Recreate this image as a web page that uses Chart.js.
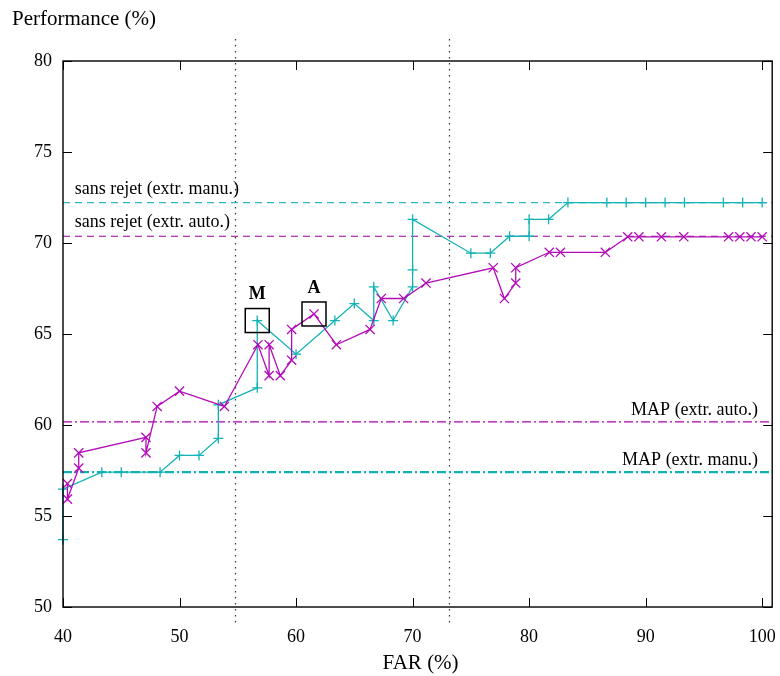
<!DOCTYPE html>
<html>
<head>
<meta charset="utf-8">
<script src="https://cdn.jsdelivr.net/npm/chart.js@4.4.0/dist/chart.umd.min.js"></script>
<style>
  html, body { margin: 0; padding: 0; background: #ffffff; }
  #wrap { width: 780px; height: 676px; position: relative; }
</style>
</head>
<body>
<div id="wrap"><canvas id="c" width="780" height="676"></canvas></div>
<script>
// ---- data ----
const xTickValues = [40, 50, 60, 70, 80, 90, 100];
const yTickValues = [50, 55, 60, 65, 70, 75, 80];

// manual extraction series (cyan, '+')
const manuFar  = [40, 40, 43.33, 45, 48.33, 50, 51.67, 53.33, 53.33, 56.67,
                  56.67, 60, 63.33, 65, 66.67, 66.67, 68.33, 70, 70, 70,
                  75, 76.67, 78.33, 80, 80, 81.67, 83.33, 86.67, 88.33, 90,
                  91.67, 93.33, 96.67, 98.33, 100];
const manuPerf = [53.70, 56.48, 57.41, 57.41, 57.41, 58.33, 58.33, 59.26, 61.11, 62.04,
                  65.74, 63.89, 65.74, 66.67, 65.74, 67.59, 65.74, 67.59, 68.52, 71.30,
                  69.44, 69.44, 70.37, 70.37, 71.30, 71.30, 72.22, 72.22, 72.22, 72.22,
                  72.22, 72.22, 72.22, 72.22, 72.22];

// automatic extraction series (magenta, 'x')
const autoFar  = [40.38, 40.38, 41.35, 41.35, 47.12, 47.12, 48.08, 50.00, 53.85,
                  56.73, 57.69, 57.69, 58.65, 59.62, 59.62, 61.54, 63.46, 66.35, 67.31,
                  69.23, 71.15, 76.92, 77.88, 78.85, 78.85, 81.73, 82.69, 86.54,
                  88.46, 89.42, 91.35, 93.27, 97.12, 98.08, 99.04, 100];
const autoPerf = [56.78, 55.93, 57.63, 58.47, 59.32, 58.47, 61.02, 61.86, 61.02,
                  64.41, 62.71, 64.41, 62.71, 63.56, 65.25, 66.10, 64.41, 65.25, 66.95,
                  66.95, 67.80, 68.64, 66.95, 67.80, 68.64, 69.49, 69.49, 69.49,
                  70.34, 70.34, 70.34, 70.34, 70.34, 70.34, 70.34, 70.34];

// reference (horizontal) levels
const refLabels = ['sans rejet (extr. manu.)', 'sans rejet (extr. auto.)', 'MAP (extr. auto.)', 'MAP (extr. manu.)'];
const refValues = [72.22, 70.37, 60.17, 57.41];

// vertical dotted markers (FAR %)
const vLines = [54.75, 73.1];

// boxed annotations
const boxLabels = ['M', 'A'];
const boxFar    = [56.67, 61.54];
const boxPerf   = [65.74, 66.10];

const X_MIN = 40, X_MAX = 100.86, Y_MIN = 50, Y_MAX = 80;

// ---- styles ----
const CYAN = '#12b2b6';
const MAG = '#b20cb8';
const FONT = 'Liberation Serif, Times New Roman, serif';

function pts(xs, ys) { return xs.map((x, i) => ({ x: x, y: ys[i] })); }
function hline(v) { return [{ x: X_MIN, y: v }, { x: X_MAX, y: v }]; }

const refStyles = [
  { color: '#2fb6c2', width: 1.2, dash: [7, 5] },
  { color: '#930093', width: 1.2, dash: [7, 5] },
  { color: '#b000b0', width: 1.2, dash: [9, 3, 2, 3] },
  { color: '#10b2b6', width: 2.2, dash: [9, 3, 2, 3] }
];

const datasets = [];
refValues.forEach((v, i) => {
  datasets.push({
    label: refLabels[i],
    data: hline(v),
    showLine: true,
    borderColor: refStyles[i].color,
    borderWidth: refStyles[i].width,
    borderDash: refStyles[i].dash,
    pointRadius: 0,
    fill: false,
    order: 5
  });
});
datasets.push({
  label: 'extr. manu.',
  data: pts(manuFar, manuPerf),
  showLine: true,
  borderColor: CYAN,
  backgroundColor: CYAN,
  borderWidth: 1.3,
  pointStyle: 'cross',
  pointRadius: 5,
  pointBorderWidth: 1.3,
  pointBorderColor: CYAN,
  clip: 12,
  order: 2
});
datasets.push({
  label: 'extr. auto.',
  data: pts(autoFar, autoPerf),
  showLine: true,
  borderColor: MAG,
  backgroundColor: MAG,
  borderWidth: 1.3,
  pointStyle: 'crossRot',
  pointRadius: 6.5,
  pointBorderWidth: 1.3,
  pointBorderColor: MAG,
  clip: 12,
  order: 1
});

const decor = {
  id: 'decor',
  beforeDatasetsDraw(chart) {
    const ctx = chart.ctx, a = chart.chartArea;
    const xs = chart.scales.x;
    // vertical dotted lines
    ctx.save();
    ctx.strokeStyle = '#333333';
    ctx.lineWidth = 1.2;
    ctx.setLineDash([1.5, 4.5]);
    vLines.forEach(v => {
      const px = Math.round(xs.getPixelForValue(v)) + 0.5;
      ctx.beginPath();
      ctx.moveTo(px, a.top - 22);
      ctx.lineTo(px, a.bottom + 18);
      ctx.stroke();
    });
    ctx.restore();
  },
  afterDraw(chart) {
    const ctx = chart.ctx, a = chart.chartArea;
    const xs = chart.scales.x, ys = chart.scales.y;
    ctx.save();
    // frame
    ctx.strokeStyle = '#000000';
    ctx.lineWidth = 1.4;
    ctx.setLineDash([]);
    ctx.strokeRect(a.left, a.top, a.right - a.left, a.bottom - a.top);
    // inward ticks
    ctx.lineWidth = 1;
    const TL = 9;
    xTickValues.forEach(v => {
      const px = Math.round(xs.getPixelForValue(v)) + 0.5;
      ctx.beginPath();
      ctx.moveTo(px, a.bottom); ctx.lineTo(px, a.bottom - TL);
      ctx.moveTo(px, a.top); ctx.lineTo(px, a.top + TL);
      ctx.stroke();
    });
    yTickValues.forEach(v => {
      const py = Math.round(ys.getPixelForValue(v)) + 0.5;
      ctx.beginPath();
      ctx.moveTo(a.left, py); ctx.lineTo(a.left + TL, py);
      ctx.moveTo(a.right, py); ctx.lineTo(a.right - TL, py);
      ctx.stroke();
    });
    // reference labels
    ctx.fillStyle = '#000000';
    ctx.font = '18px ' + FONT;
    ctx.textBaseline = 'alphabetic';
    refLabels.forEach((t, i) => {
      const py = ys.getPixelForValue(refValues[i]);
      if (i < 2) {
        ctx.textAlign = 'left';
        ctx.fillText(t, xs.getPixelForValue(41), py - 9);
      } else {
        ctx.textAlign = 'right';
        ctx.fillText(t, xs.getPixelForValue(99.65), py - 7);
      }
    });
    // boxes
    boxLabels.forEach((t, i) => {
      const px = xs.getPixelForValue(boxFar[i]);
      const py = ys.getPixelForValue(boxPerf[i]);
      ctx.lineWidth = 1.5;
      ctx.strokeStyle = '#000000';
      ctx.strokeRect(px - 12, py - 12, 24, 24);
      ctx.font = 'bold 18px ' + FONT;
      ctx.textAlign = 'center';
      ctx.textBaseline = 'middle';
      ctx.fillText(t, px, py - 26);
    });
    // axis titles
    ctx.font = '21px ' + FONT;
    ctx.textAlign = 'left';
    ctx.textBaseline = 'middle';
    ctx.fillText('Performance (%)', 12, 19);
    ctx.textAlign = 'center';
    ctx.fillText('FAR (%)', (a.left + a.right) / 2 + 3, 663);
    ctx.restore();
  }
};

new Chart(document.getElementById('c'), {
  type: 'scatter',
  data: { datasets: datasets },
  options: {
    responsive: false,
    animation: false,
    layout: { padding: { top: 61, right: 7, bottom: 0, left: 0 } },
    plugins: { legend: { display: false }, tooltip: { enabled: false }, title: { display: false } },
    scales: {
      x: {
        type: 'linear', min: X_MIN, max: X_MAX,
        afterBuildTicks: s => { s.ticks = xTickValues.map(v => ({ value: v })); },
        afterFit: s => { s.height = 69; s.paddingLeft = 0; s.paddingRight = 0; },
        grid: { display: false, drawTicks: false },
        border: { display: false },
        ticks: { color: '#000', font: { family: FONT, size: 18 }, padding: 19, maxRotation: 0, autoSkip: false }
      },
      y: {
        type: 'linear', min: Y_MIN, max: Y_MAX,
        afterBuildTicks: s => { s.ticks = yTickValues.map(v => ({ value: v })); },
        afterFit: s => { s.width = 63; s.paddingTop = 0; s.paddingBottom = 0; },
        grid: { display: false, drawTicks: false },
        border: { display: false },
        ticks: { color: '#000', font: { family: FONT, size: 18 }, padding: 11 }
      }
    }
  },
  plugins: [decor]
});
</script>
</body>
</html>
